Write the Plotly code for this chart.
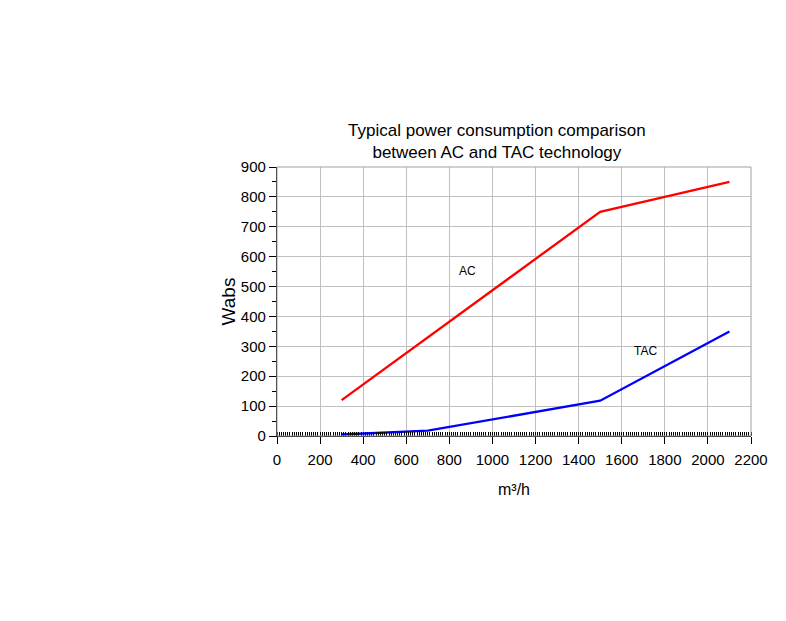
import plotly.graph_objects as go

# ── Data ─────────────────────────────────────────────
ac_flow  = [300, 1500, 2100]
ac_power = [120, 750, 850]
tac_flow  = [300, 700, 1500, 2100]
tac_power = [5, 18, 118, 350]

x_ticks = list(range(0, 2201, 200))
y_ticks = list(range(0, 901, 100))

FONT = "Liberation Sans, Arial"
GRID = "#C0C0C0"

fig = go.Figure()
fig.add_trace(go.Scatter(x=ac_flow, y=ac_power, mode="lines", name="AC",
                         line=dict(color="#FF0000", width=2.3)))
fig.add_trace(go.Scatter(x=tac_flow, y=tac_power, mode="lines", name="TAC",
                         line=dict(color="#0000FF", width=2.3)))

fig.add_annotation(x=882, y=552, text="AC", showarrow=False,
                   font=dict(family=FONT, size=12, color="black"))
fig.add_annotation(x=1712, y=284, text="TAC", showarrow=False,
                   font=dict(family=FONT, size=12, color="black"))

# top/right frame of the plot area
fig.add_shape(type="rect", xref="x domain", yref="y domain",
              x0=0, x1=1, y0=0, y1=1, line=dict(color="#A0A0A0", width=1))

fig.update_xaxes(
    range=[0, 2200], tickvals=x_ticks, showgrid=True, gridcolor=GRID, gridwidth=1,
    showline=True, linecolor="black", linewidth=1.3,
    ticks="outside", ticklen=7, tickcolor="black", ticklabelstandoff=3,
    minor=dict(dtick=10, ticks="inside", ticklen=4, tickcolor="black", showgrid=False),
    tickfont=dict(family=FONT, size=15, color="black"),
    title=dict(text="m³/h", font=dict(family=FONT, size=16, color="black"), standoff=16),
    zeroline=False,
)
fig.update_yaxes(
    range=[0, 900], tickvals=y_ticks, showgrid=True, gridcolor=GRID, gridwidth=1,
    showline=True, linecolor="black", linewidth=1.3,
    ticks="outside", ticklen=7, tickcolor="black",
    minor=dict(dtick=50, ticks="outside", ticklen=4, tickcolor="black", showgrid=False),
    tickfont=dict(family=FONT, size=15, color="black"),
    title=dict(text="Wabs", font=dict(family=FONT, size=19, color="black"), standoff=0),
    zeroline=False,
)

fig.update_layout(
    title=dict(text="Typical power consumption comparison<br>between AC and TAC technology",
               x=0.622, xanchor="center", y=0.794, yanchor="top",
               font=dict(family=FONT, size=17, color="black")),
    width=786, height=621, showlegend=False,
    paper_bgcolor="white", plot_bgcolor="white",
    margin=dict(l=269, r=43, t=159, b=193),
)

fig.write_html("out.html")
